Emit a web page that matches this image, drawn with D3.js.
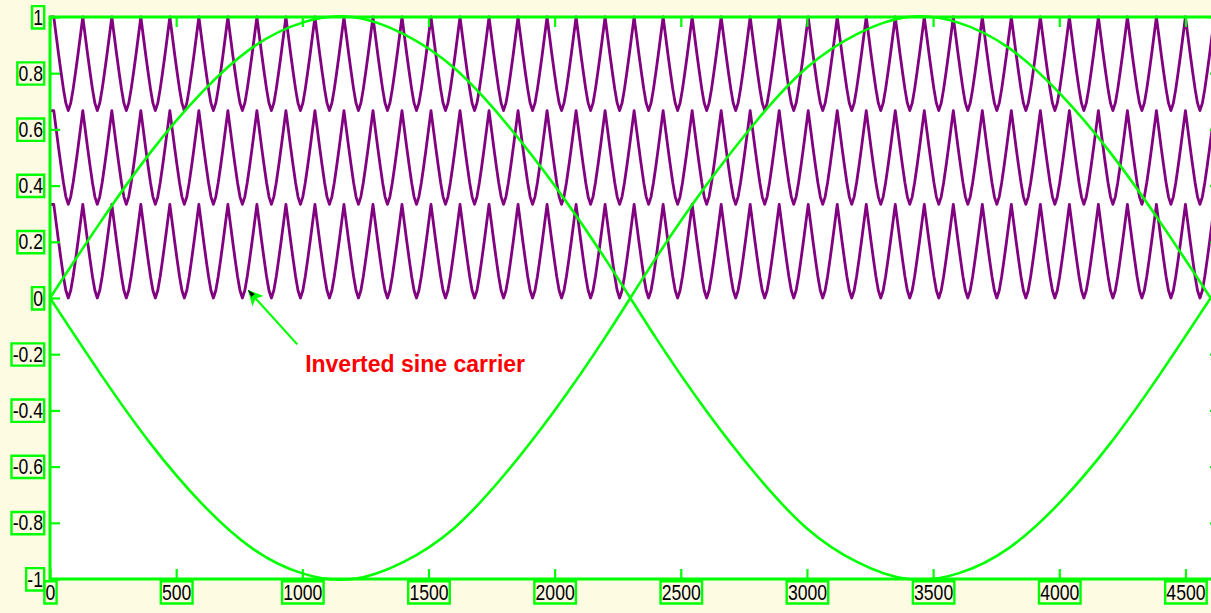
<!DOCTYPE html>
<html>
<head>
<meta charset="utf-8" />
<title>Inverted sine carrier</title>
<script src="https://d3js.org/d3.v7.min.js"></script>
<style>
	body { margin: 0; background: #fdfce3; }
	svg { display: block; }
	.tick text { font-family: "Liberation Sans", Arial, sans-serif; font-size: 22px; fill: #000; }
</style>
</head>
<body>
<div id="chart"></div>
<script>
	// axis ticks
	const xTicks = [0, 500, 1000, 1500, 2000, 2500, 3000, 3500, 4000, 4500];
	const xTickLabels = ["0", "500", "1000", "1500", "2000", "2500", "3000", "3500", "4000", "4500"];
	const yTicks = [-1, -0.8, -0.6, -0.4, -0.2, 0, 0.2, 0.4, 0.6, 0.8, 1];
	const yTickLabels = ["-1", "-0.8", "-0.6", "-0.4", "-0.2", "0", "0.2", "0.4", "0.6", "0.8", "1"];

	// the two green modulating waves, read every 200 samples
	const sineX = [0, 200, 400, 600, 800, 1000, 1200, 1400, 1600, 1800, 2000, 2200,
		2400, 2600, 2800, 3000, 3200, 3400, 3600, 3800, 4000, 4200, 4400, 4600];
	const sineUp = [0, 0.27, 0.52, 0.73, 0.89, 0.98, 1.0, 0.94, 0.82, 0.63, 0.40, 0.14,
		-0.14, -0.40, -0.63, -0.82, -0.94, -1.0, -0.98, -0.89, -0.73, -0.52, -0.27, 0];
	const sineDown = [0, -0.27, -0.52, -0.73, -0.89, -0.98, -1.0, -0.94, -0.82, -0.63, -0.40, -0.14,
		0.14, 0.40, 0.63, 0.82, 0.94, 1.0, 0.98, 0.89, 0.73, 0.52, 0.27, 0];

	// one cycle of the inverted sine carrier (fraction of band height), peak to peak
	const carrierCycle = [1, 0.8, 0.6, 0.41, 0.23, 0.08, 0, 0.08, 0.23, 0.41, 0.6, 0.8, 1];
	const carrierPeriod = 115;
	const carrierStart = 15;
	const carrierCycles = 40;
	const bandBase = [0, 1 / 3, 2 / 3];
	const bandHeight = 1 / 3;

	// annotation
	const noteText = "Inverted sine carrier";
	const noteAt = [1447, -0.235];
	const arrowFrom = [980, -0.165];
	const arrowTo = [788, 0.025];

	const width = 1211;
	const height = 613;

	const x = d3.scaleLinear().domain([0, 4637]).range([50, 1220]);
	const y = d3.scaleLinear().domain([-1, 1]).range([579, 17]);

	const svg = d3.select("#chart")
		.append("svg")
		.attr("width", width)
		.attr("height", height);

	svg.append("rect")
		.attr("width", width)
		.attr("height", height)
		.attr("fill", "#fdfce3");

	svg.append("rect")
		.attr("x", x(0))
		.attr("y", y(1))
		.attr("width", x(4637) - x(0))
		.attr("height", y(-1) - y(1))
		.attr("fill", "#ffffff");

	svg.append("clipPath")
		.attr("id", "plotClip")
		.append("rect")
		.attr("x", x(0))
		.attr("y", y(1) - 2)
		.attr("width", x(4637) - x(0))
		.attr("height", y(-1) - y(1) + 4);

	const plot = svg.append("g").attr("clip-path", "url(#plotClip)");

	// carriers
	const carrierPoints = (base) => {
		const pts = [[0, base + bandHeight]];
		const n = carrierCycle.length - 1;
		for (let k = 0; k < carrierCycles; k++) {
			for (let j = (k === 0 ? 0 : 1); j <= n; j++) {
				pts.push([carrierStart + k * carrierPeriod + j * carrierPeriod / n,
					base + carrierCycle[j] * bandHeight]);
			}
		}
		return pts;
	};

	const line = d3.line()
		.x((d) => x(d[0]))
		.y((d) => y(d[1]));

	plot.selectAll(".carrier")
		.data(bandBase)
		.enter()
		.append("path")
		.attr("class", "carrier")
		.attr("d", (b) => line(carrierPoints(b)))
		.attr("fill", "none")
		.attr("stroke", "#800080")
		.attr("stroke-width", 2.8)
		.attr("stroke-linejoin", "round");

	const smooth = d3.line()
		.x((d) => x(d[0]))
		.y((d) => y(d[1]))
		.curve(d3.curveNatural);

	[sineUp, sineDown].forEach((vals) => {
		plot.append("path")
			.attr("d", smooth(sineX.map((v, i) => [v, vals[i]])))
			.attr("fill", "none")
			.attr("stroke", "#00ff00")
			.attr("stroke-width", 2.6);
	});

	// axes
	const styleAxis = (g) => {
		g.select(".domain").remove();
		g.selectAll(".tick line").attr("stroke", "#00ff00").attr("stroke-width", 2.2);
	};

	const boxLabels = (g, sx) => {
		g.selectAll(".tick text").each(function () {
			const t = d3.select(this);
			t.attr("x", (+t.attr("x") || 0) / sx).attr("transform", "scale(" + sx + ",1)");
			const b = this.getBBox();
			d3.select(this.parentNode).insert("rect", "text")
				.attr("x", b.x - 1.5)
				.attr("y", b.y + 1.5)
				.attr("width", b.width + 3)
				.attr("height", b.height - 2)
				.attr("transform", "scale(" + sx + ",1)")
				.attr("fill", "none")
				.attr("stroke", "#00ff00")
				.attr("stroke-width", 2.4)
				.attr("vector-effect", "non-scaling-stroke");
		});
	};

	const gx = svg.append("g")
		.attr("transform", "translate(0," + y(-1) + ")")
		.call(d3.axisBottom(x).tickValues(xTicks).tickSize(-10).tickPadding(5)
			.tickFormat((d, i) => xTickLabels[i]));
	styleAxis(gx);
	boxLabels(gx, 0.8);

	const gxTop = svg.append("g")
		.attr("transform", "translate(0," + y(1) + ")")
		.call(d3.axisTop(x).tickValues(xTicks).tickSize(-10).tickFormat(""));
	styleAxis(gxTop);

	const gy = svg.append("g")
		.attr("transform", "translate(" + x(0) + ",0)")
		.call(d3.axisLeft(y).tickValues(yTicks).tickSize(-10).tickPadding(7)
			.tickFormat((d, i) => yTickLabels[i]));
	styleAxis(gy);
	boxLabels(gy, 0.8);

	const gyRight = svg.append("g")
		.attr("transform", "translate(" + x(4637) + ",0)")
		.call(d3.axisRight(y).tickValues(yTicks).tickSize(-10).tickFormat(""));
	styleAxis(gyRight);

	// frame
	svg.append("rect")
		.attr("x", x(0))
		.attr("y", y(1))
		.attr("width", x(4637) - x(0))
		.attr("height", y(-1) - y(1))
		.attr("stroke", "#00ff00")
		.attr("stroke-width", 3)
		.attr("fill", "none");

	// annotation arrow
	const defs = svg.append("defs");
	const marker = defs.append("marker")
		.attr("id", "head")
		.attr("viewBox", "0 0 10 10")
		.attr("refX", 9)
		.attr("refY", 5)
		.attr("markerWidth", 7)
		.attr("markerHeight", 7)
		.attr("markerUnits", "strokeWidth")
		.attr("orient", "auto");
	marker.append("path")
		.attr("d", "M0,0 L10,5 L0,10 L2.5,5 Z")
		.attr("fill", "#00ff00");
	marker.append("path")
		.attr("d", "M5,3.5 L10,5 L5,6.5 Z")
		.attr("fill", "#000000");

	svg.append("line")
		.attr("x1", x(arrowFrom[0]))
		.attr("y1", y(arrowFrom[1]))
		.attr("x2", x(arrowTo[0]))
		.attr("y2", y(arrowTo[1]))
		.attr("stroke", "#00ff00")
		.attr("stroke-width", 2.2)
		.attr("marker-end", "url(#head)");

	svg.append("text")
		.attr("x", x(noteAt[0]))
		.attr("y", y(noteAt[1]))
		.attr("text-anchor", "middle")
		.attr("dy", "0.35em")
		.attr("font-family", "'Liberation Sans', Arial, sans-serif")
		.attr("font-weight", "bold")
		.attr("font-size", "23px")
		.attr("fill", "#ff0000")
		.text(noteText);
</script>
</body>
</html>
